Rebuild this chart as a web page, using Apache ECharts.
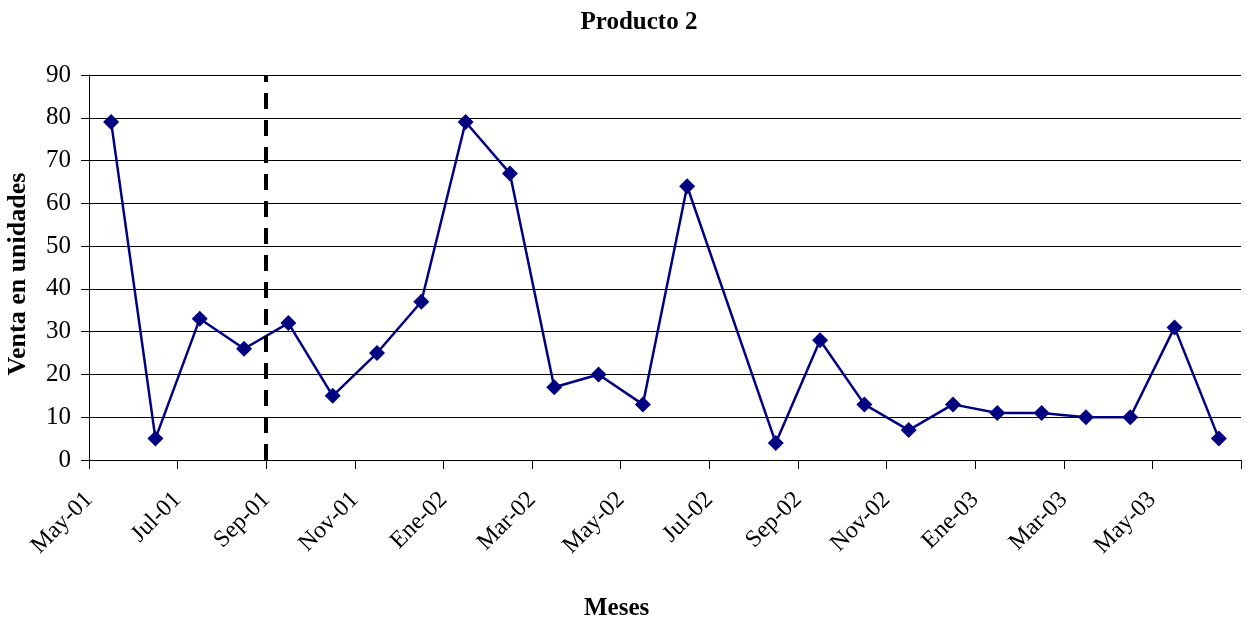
<!DOCTYPE html>
<html>
<head>
<meta charset="utf-8">
<script src="https://cdn.jsdelivr.net/npm/echarts@6/dist/echarts.min.js"></script>
<style>
  html, body { margin: 0; padding: 0; background: #fff; }
  #chart { width: 1247px; height: 625px; }
</style>
</head>
<body>
<div id="chart"></div>
<script>
// Monthly sales of product 2 (one value per month; July 2002 has no record)
const months = ['May-01','Jun-01','Jul-01','Ago-01','Sep-01','Oct-01','Nov-01','Dic-01',
  'Ene-02','Feb-02','Mar-02','Abr-02','May-02','Jun-02','Jul-02','Ago-02','Sep-02','Oct-02','Nov-02','Dic-02',
  'Ene-03','Feb-03','Mar-03','Abr-03','May-03','Jun-03'];
const sales = [79, 5, 33, 26, 32, 15, 25, 37, 79, 67, 17, 20, 13, 64, null, 4, 28, 13, 7, 13, 11, 11, 10, 10, 31, 5];
// Month boundaries used for the tick labels (start of each month, plus the closing one)
const monthStarts = months.concat(['Jul-03']);
const markerMonth = 'Sep-01';

const serif = '"Liberation Serif", "Times New Roman", serif';
const chart = echarts.init(document.getElementById('chart'));

chart.setOption({
  animation: false,
  backgroundColor: '#fff',
  title: {
    text: 'Producto 2',
    left: 634, top: 5, textAlign: 'center',
    textStyle: { fontFamily: serif, fontWeight: 'bold', fontSize: 25, color: '#000' }
  },
  graphic: [{
    type: 'text', left: 584, top: 596,
    style: { text: 'Meses', font: 'bold 25px ' + serif, fill: '#000' }
  }, {
    type: 'text', x: 18, y: 274, rotation: Math.PI / 2,
    style: {
      text: 'Venta en unidades', font: 'bold 26px ' + serif, fill: '#000',
      align: 'center', verticalAlign: 'middle'
    }
  }],
  grid: { left: 89, right: 6, top: 75, bottom: 165, containLabel: false, outerBoundsMode: 'none' },
  xAxis: [{
    type: 'category',
    data: months,
    boundaryGap: true,
    position: 'bottom',
    axisLine: { show: true, lineStyle: { color: '#000', width: 1 } },
    axisTick: { show: false },
    axisLabel: { show: false },
    splitLine: { show: false }
  }, {
    type: 'category',
    data: monthStarts,
    boundaryGap: false,
    position: 'bottom',
    axisLine: { show: false },
    axisTick: {
      show: true, length: 9, inside: false,
      interval: (i) => i % 2 === 0,
      lineStyle: { color: '#000', width: 1 }
    },
    axisLabel: {
      show: true, rotate: 45, margin: 36,
      interval: (i) => i % 2 === 0 && i < monthStarts.length - 1,
      fontFamily: serif, fontSize: 24, color: '#000'
    },
    splitLine: { show: false }
  }],
  yAxis: {
    type: 'value',
    min: 0, max: 90, interval: 10,
    axisLine: { show: true, lineStyle: { color: '#000', width: 1 } },
    axisTick: { show: true, length: 8, lineStyle: { color: '#000' } },
    axisLabel: { fontFamily: serif, fontSize: 25, color: '#000', margin: 18 },
    splitLine: { show: true, lineStyle: { color: '#000', width: 1 } }
  },
  series: [{
    name: 'Producto 2',
    type: 'line',
    xAxisIndex: 0,
    data: sales,
    connectNulls: true,
    symbol: 'diamond',
    symbolSize: 16,
    lineStyle: { color: '#000080', width: 2.5 },
    itemStyle: { color: '#000080' },
    z: 3
  }, {
    name: 'marca',
    type: 'line',
    xAxisIndex: 1,
    data: monthStarts.map(() => null),
    symbol: 'none',
    markLine: {
      silent: true,
      symbol: ['none', 'none'],
      label: { show: false },
      lineStyle: { color: '#000', width: 4, type: [16, 11] },
      data: [{ xAxis: markerMonth }]
    },
    z: 2
  }]
});
</script>
</body>
</html>
